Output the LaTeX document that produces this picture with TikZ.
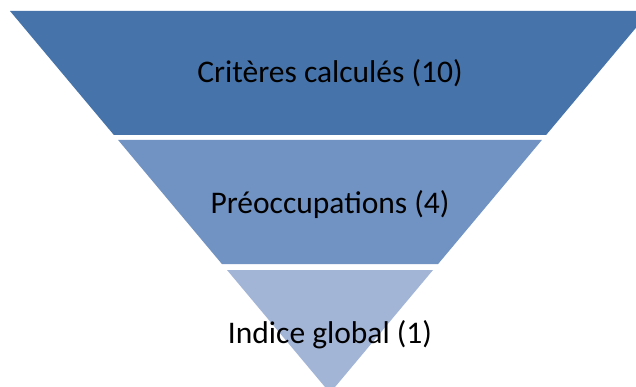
\documentclass[tikz,border=0pt]{standalone}
\usepackage{fontspec}
\setmainfont{Carlito}
\definecolor{bandA}{RGB}{70,116,170}
\definecolor{bandB}{RGB}{113,147,195}
\definecolor{bandC}{RGB}{163,181,215}
\begin{document}
\begin{tikzpicture}[x=1pt,y=-1pt,
  lbl/.style={anchor=base, inner sep=0pt, text=black, font=\fontsize{31.5}{36}\selectfont}]
\useasboundingbox (0,0) rectangle (636,387);
\clip (0,0) rectangle (636,387);
\fill[white] (0,0) rectangle (636,387);
\fill[bandA] (10,11) -- (650,11) -- (546.1,135) -- (113.9,135) -- cycle;
\fill[bandB] (118.1,140) -- (541.9,140) -- (438.1,264) -- (221.9,264) -- cycle;
\fill[bandC] (227,270) -- (433,270) -- (330,393) -- cycle;
\node[lbl] (t1) at (330,83) {Critères calculés (10)};
\node[lbl] (t2) at (330,213) {Préoccupations (4)};
\node[lbl] (t3) at (330,343) {Indice global (1)};
\end{tikzpicture}
\end{document}
